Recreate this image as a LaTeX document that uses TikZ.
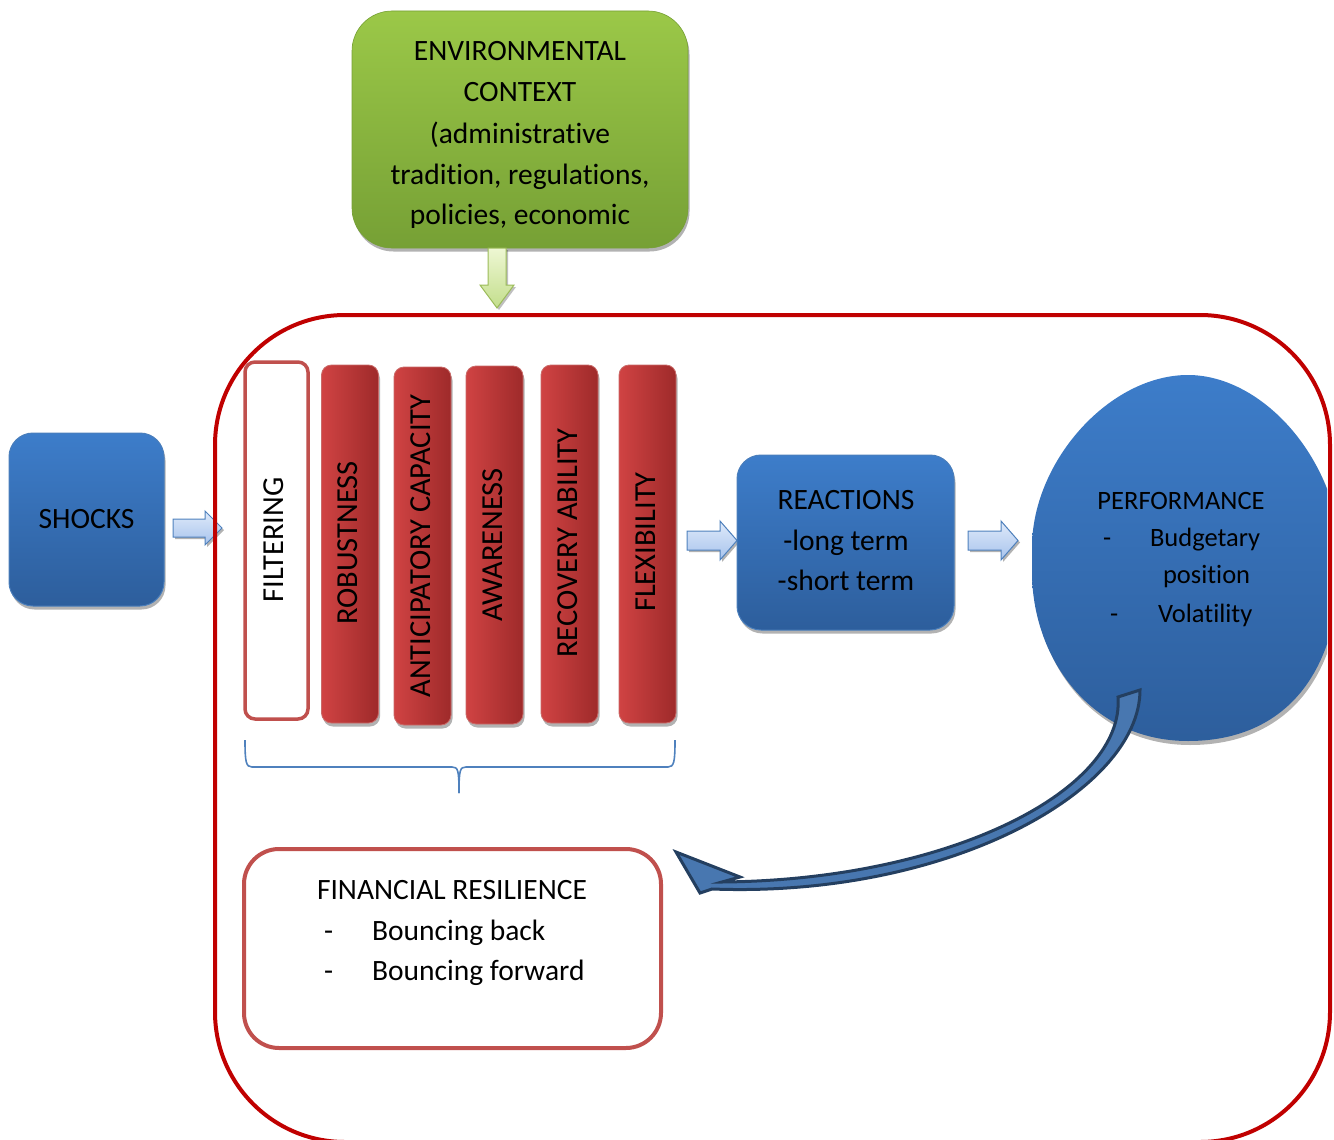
\documentclass[tikz,border=0pt]{standalone}
\usepackage{fontspec}
\setmainfont{Carlito}[Ligatures=CommonOff]
\usetikzlibrary{shadows}
\definecolor{bluetop}{HTML}{3D7DCA}
\definecolor{bluebot}{HTML}{2D5E9C}
\definecolor{blueedge}{HTML}{4A7EBB}
\definecolor{redl}{HTML}{D04343}
\definecolor{redr}{HTML}{9E2A2A}
\definecolor{rededge}{HTML}{C0504D}
\definecolor{framered}{HTML}{C00000}
\definecolor{greentop}{HTML}{9BC848}
\definecolor{greenbot}{HTML}{76A035}
\definecolor{arrowtop}{HTML}{DFEAFA}
\definecolor{arrowbot}{HTML}{A7C3EC}
\definecolor{arrowedge}{HTML}{4F81BD}
\definecolor{garrowtop}{HTML}{EEF7D3}
\definecolor{garrowbot}{HTML}{C3DE8C}
\definecolor{garrowedge}{HTML}{9BBB59}
\definecolor{navy}{HTML}{243F60}
\definecolor{curvefill}{HTML}{4877B0}
\begin{document}
\begin{tikzpicture}[x=1pt,y=-1pt,
  every node/.style={inner sep=0pt, outer sep=0pt},
  bigfont/.style={font=\fontsize{29.5}{41}\selectfont},
  colfont/.style={font=\fontsize{30.5}{41}\selectfont},
  perffont/.style={font=\fontsize{26.5}{38}\selectfont},
  shadowed/.style={drop shadow={shadow xshift=1.5pt, shadow yshift=-3.5pt, fill=black, opacity=0.3}},
  bluebox/.style={shadowed, rounded corners=24pt, top color=bluetop, bottom color=bluebot, draw=blueedge, line width=1pt, bigfont},
  redcol/.style={shadowed, rounded corners=10pt, left color=redl, right color=redr, draw=rededge!85, line width=0.8pt, minimum width=57pt, minimum height=358pt},
  filtbox/.style={rounded corners=10pt, draw=rededge, line width=3.5pt, fill=white, minimum width=63pt, minimum height=357pt},
  coltext/.style={rotate=90, colfont},
  blockarrow/.style={top color=arrowtop, bottom color=arrowbot, draw=arrowedge, line width=1pt, drop shadow={shadow xshift=2pt, shadow yshift=-2pt, fill=black, opacity=0.3}},
  greenarrow/.style={top color=garrowtop, bottom color=garrowbot, draw=garrowedge, line width=1pt, drop shadow={shadow xshift=2pt, shadow yshift=-2pt, fill=black, opacity=0.25}},
  bracestyle/.style={draw=arrowedge, line width=1.6pt},
  resbox/.style={rounded corners=35pt, draw=rededge, line width=4pt, fill=white, minimum width=417pt, minimum height=199pt},
  curvearrow/.style={draw=navy, line width=3pt, fill=curvefill, line join=miter},
  framestyle/.style={draw=framered, line width=4pt, rounded corners=130pt}
]
\useasboundingbox (0,0) rectangle (1334,1140);
\clip (0,0) rectangle (1334,1140);

% environmental context
\node[shadowed, rounded corners=40pt, top color=greentop, bottom color=greenbot, draw=greenbot, line width=0.6pt, minimum width=336pt, minimum height=237pt] (env) at (520,129.5) {};
\begin{scope}
\clip (352,11) rectangle (688,227);
\node[bigfont, anchor=base] (env1) at (520,61) {ENVIRONMENTAL};
\node[bigfont, anchor=base] (env2) at (520,102) {CONTEXT};
\node[bigfont, anchor=base] (env3) at (520,143) {(administrative};
\node[bigfont, anchor=base] (env4) at (520,184) {tradition, regulations,};
\node[bigfont, anchor=base] (env5) at (520,224) {policies, economic};
\end{scope}

% green arrow down
\path[greenarrow] (488,248) -- (506,248) -- (506,285) -- (514,285) -- (497,308) -- (480,285) -- (488,285) -- cycle;

% shocks
\node[bluebox, minimum width=155pt, minimum height=173pt] (shocks) at (86.5,519.5) {SHOCKS};
\path[blockarrow] (173,519) -- (205,519) -- (205,511) -- (222,528) -- (205,545) -- (205,537) -- (173,537) -- cycle;

% columns
\node[filtbox] (filt) at (276.5,540.5) {};
\node[coltext] (filtt) at (274,540) {FILTERING};
\node[redcol] (rob) at (350,544) {};
\node[coltext] (robt) at (348,543) {ROBUSTNESS};
\node[redcol] (ant) at (422.5,546) {};
\node[coltext] (antt) at (420.5,546) {ANTICIPATORY CAPACITY};
\node[redcol] (awa) at (494.5,545) {};
\node[coltext] (awat) at (492.5,545) {AWARENESS};
\node[redcol] (rec) at (569.5,544) {};
\node[coltext] (rect) at (567.5,543) {RECOVERY ABILITY};
\node[redcol] (flex) at (647.5,544) {};
\node[coltext] (flext) at (645.5,542) {FLEXIBILITY};

% brace
\draw[bracestyle] (245,740) .. controls (245,762) and (246,767) .. (252,767) -- (452,767) .. controls (458,767) and (459,770) .. (459,793);
\draw[bracestyle] (459,793) .. controls (459,770) and (460,767) .. (466,767) -- (668,767) .. controls (674,767) and (675,762) .. (675,740);

% reactions
\path[blockarrow] (687,531) -- (720,531) -- (720,521) -- (737,540.5) -- (720,560) -- (720,550) -- (687,550) -- cycle;
\node[bluebox, minimum width=217pt, minimum height=175pt] (react) at (845.5,542.5) {};
\node[bigfont, anchor=base] (react1) at (846,509) {REACTIONS};
\node[bigfont, anchor=base] (react2) at (846,550) {-long term};
\node[bigfont, anchor=base] (react3) at (846,590) {-short term};
\path[blockarrow] (968,531) -- (1001,531) -- (1001,521) -- (1018,540.5) -- (1001,560) -- (1001,550) -- (968,550) -- cycle;

% performance
\begin{scope}
\clip (1000,350) rectangle (1327,780);
\fill[black, opacity=0.3, shift={(2,4)}] (1188,375) .. controls (1264,375) and (1340,462) .. (1340,558) .. controls (1340,672) and (1286,741) .. (1188,741) .. controls (1092,741) and (1033.5,660) .. (1032,575) -- (1032,545) .. controls (1033.5,460) and (1110,375) .. (1188,375) -- cycle;
\begin{scope}
\clip (1188,375) .. controls (1264,375) and (1340,462) .. (1340,558) .. controls (1340,672) and (1286,741) .. (1188,741) .. controls (1092,741) and (1033.5,660) .. (1032,575) -- (1032,545) .. controls (1033.5,460) and (1110,375) .. (1188,375) -- cycle;
\shade[top color=bluetop, bottom color=bluebot] (1020,372) rectangle (1345,745);
\end{scope}
\end{scope}
\node[perffont, anchor=base] (perf) at (1181,509) {PERFORMANCE};
\node[perffont, anchor=base west] (pd1) at (1103,546) {-};
\node[perffont, anchor=base west] (pb1) at (1150,546) {Budgetary};
\node[perffont, anchor=base west] (pb2) at (1163,583) {position};
\node[perffont, anchor=base west] (pd2) at (1110,622) {-};
\node[perffont, anchor=base west] (pb3) at (1158,622) {Volatility};

% financial resilience
\node[resbox] (res) at (452.5,948.5) {};
\node[bigfont, anchor=base] (res1) at (452,899) {FINANCIAL RESILIENCE};
\node[bigfont, anchor=base west] (rd1) at (324,940) {-};
\node[bigfont, anchor=base west] (rb1) at (372,940) {Bouncing back};
\node[bigfont, anchor=base west] (rd2) at (324,980) {-};
\node[bigfont, anchor=base west] (rb2) at (372,980) {Bouncing forward};

% outer frame
\draw[framestyle] (215,315) rectangle (1330,1142);

% curved feedback arrow
\draw[curvearrow] (1118,697) .. controls (1125,790) and (950,880) .. (722,882)
  -- (740,877) -- (676,852) -- (700,893) -- (712,889)
  .. controls (950,898) and (1140,790) .. (1140,690) -- cycle;
\end{tikzpicture}
\end{document}
